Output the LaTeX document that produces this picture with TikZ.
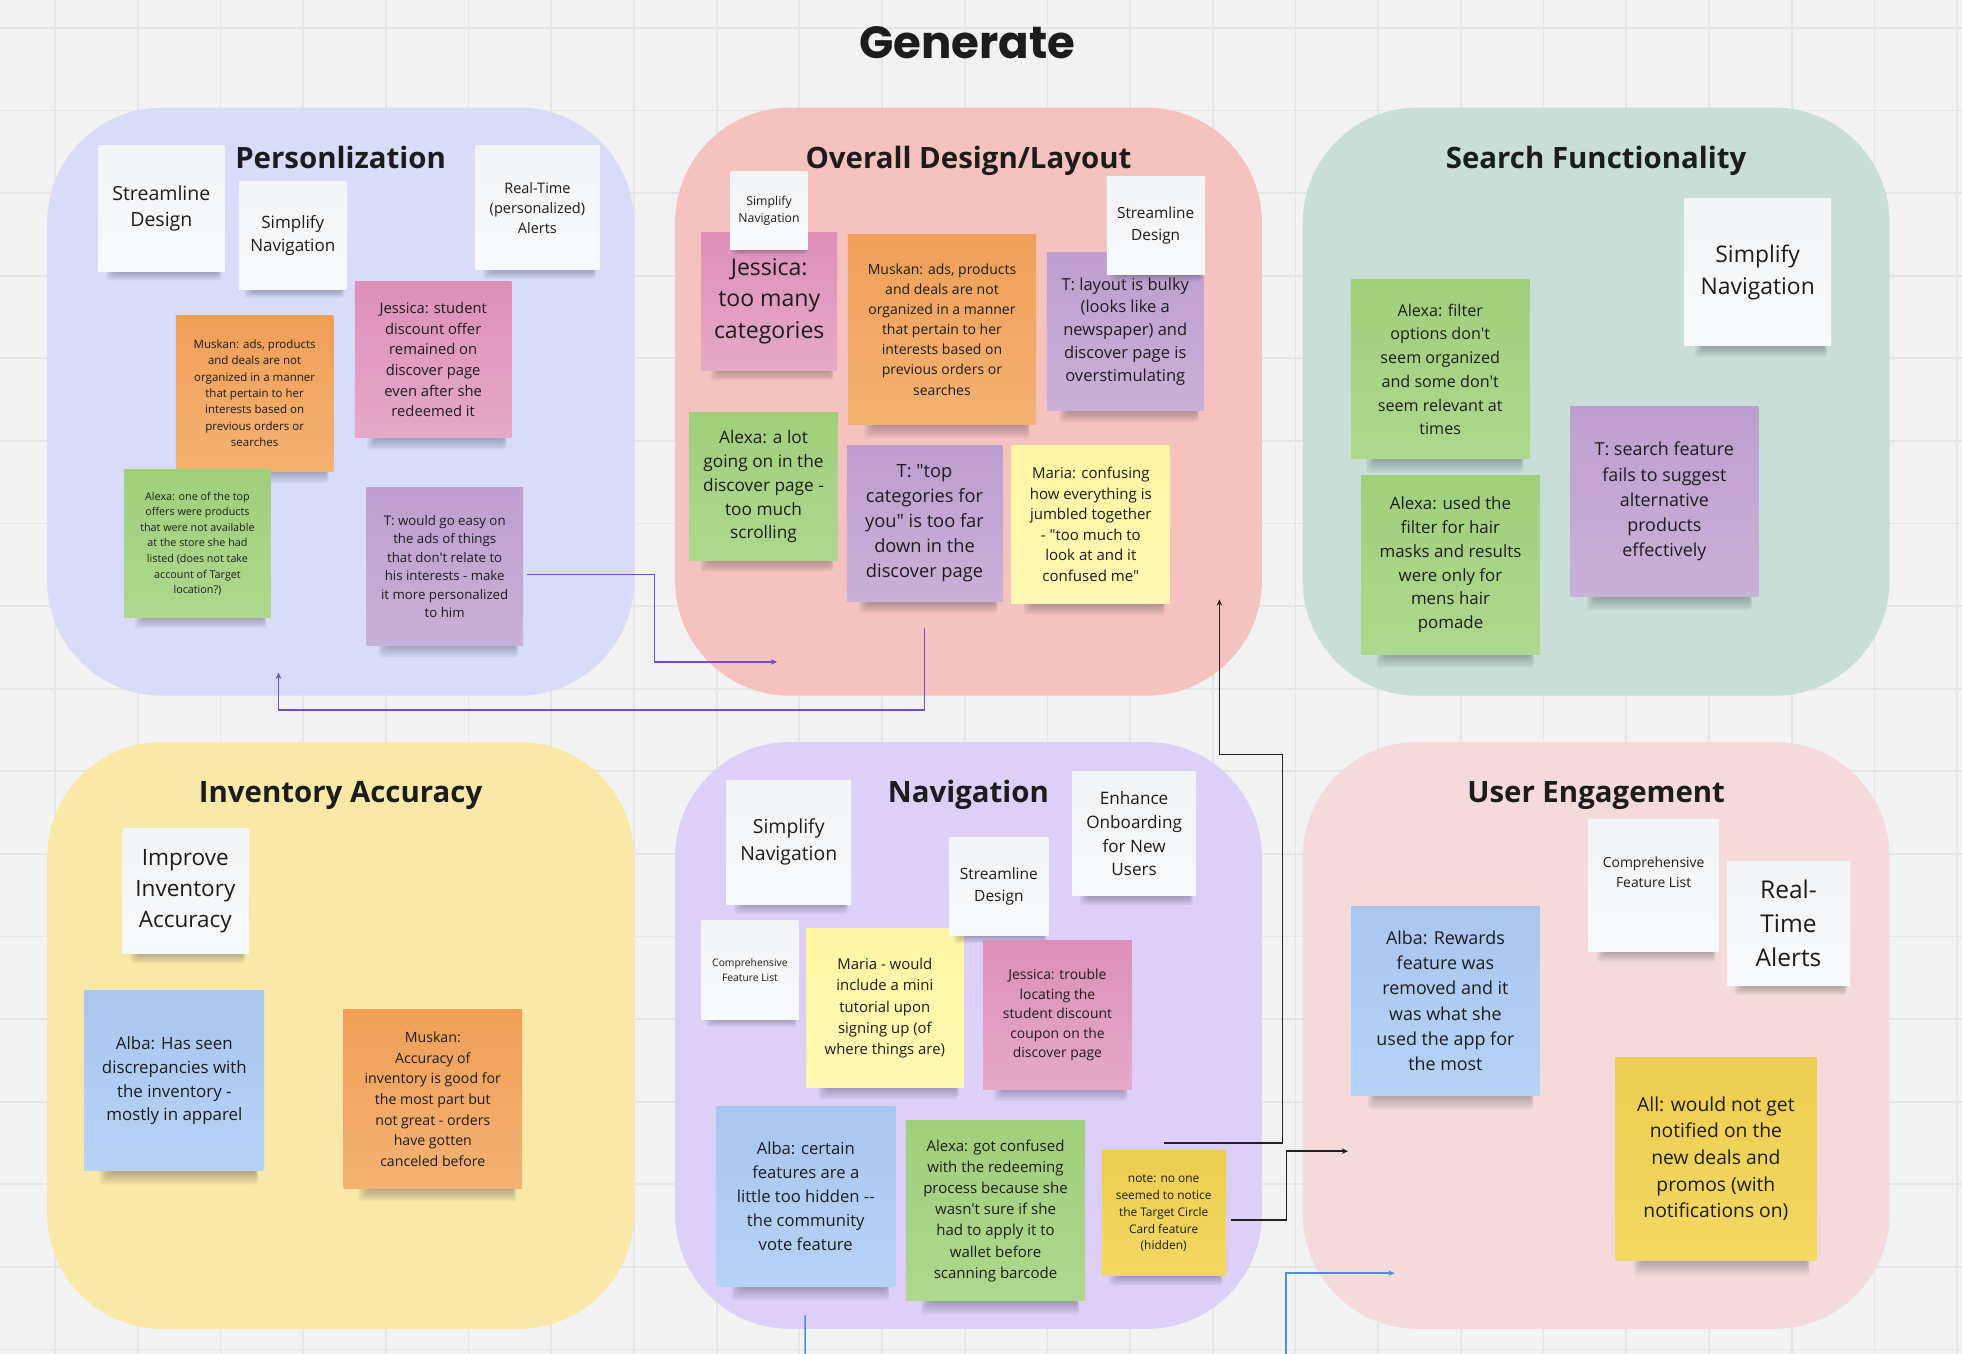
\documentclass[tikz,border=0pt]{standalone}
\usepackage{fontspec}
\setmainfont{Open Sans}[Ligatures=TeXOff]
\newfontfamily\titlefont{Poppins}
\usetikzlibrary{arrows.meta,calc}
\definecolor{bgc}{HTML}{F2F2F2}
\definecolor{gridc}{HTML}{E5E5E5}
\definecolor{pA}{HTML}{D8DCF8}
\definecolor{pB}{HTML}{F5C2C0}
\definecolor{pC}{HTML}{C8DED7}
\definecolor{pD}{HTML}{F9E8A7}
\definecolor{pE}{HTML}{DCCFF8}
\definecolor{pF}{HTML}{F4DADA}
\definecolor{textc}{HTML}{1C1C1C}
\definecolor{shc}{HTML}{20232E}
\definecolor{wT}{HTML}{F3F4F6}\definecolor{wB}{HTML}{F8F9FA}
\definecolor{oT}{HTML}{EF9F57}\definecolor{oB}{HTML}{F4B273}
\definecolor{kT}{HTML}{DD8FB9}\definecolor{kB}{HTML}{E5A9C9}
\definecolor{gT}{HTML}{A0CF7C}\definecolor{gB}{HTML}{AED88D}
\definecolor{uT}{HTML}{BE9ECF}\definecolor{uB}{HTML}{C9B0D8}
\definecolor{lT}{HTML}{FEF5A3}\definecolor{lB}{HTML}{FFF8B2}
\definecolor{bT}{HTML}{A8C6EF}\definecolor{bB}{HTML}{B6D2F5}
\definecolor{yT}{HTML}{EDCD4E}\definecolor{yB}{HTML}{F2D864}
\definecolor{linep}{HTML}{6F4FC6}
\definecolor{linek}{HTML}{222222}
\definecolor{lineb}{HTML}{4A90E2}
\tikzset{
  panel/.style={rectangle, rounded corners=92pt, inner sep=0pt, draw=none},
  ptitle/.style={font=\fontsize{23.5}{28}\selectfont\bfseries, text=textc, inner sep=0pt, anchor=base},
  sticky/.style={rectangle, inner sep=0pt, align=center, text=textc},
  fs/.style 2 args={font=\fontsize{#1}{#2}\selectfont},
  whiten/.style={top color=wT, bottom color=wB},
  orangen/.style={top color=oT, bottom color=oB},
  pinkn/.style={top color=kT, bottom color=kB},
  greenn/.style={top color=gT, bottom color=gB},
  purplen/.style={top color=uT, bottom color=uB},
  lyellown/.style={top color=lT, bottom color=lB},
  bluen/.style={top color=bT, bottom color=bB},
  yellown/.style={top color=yT, bottom color=yB},
  shadowpart/.style={fill=shc, opacity=0.055, rounded corners=2.5pt},
  conn/.style={line width=1.2pt, -{Stealth[length=5pt,width=4.5pt]}},
  connplain/.style={line width=1.2pt},
}
% name, x1, y1, x2, y2, style, text
\newcommand\sticky[7]{%
  \pgfmathsetmacro\shh{0.075*(#5-#3)}%
  \foreach \k in {1,2,3,4,5,6}{%
    \fill[shadowpart] ({#2+0.14*(#4-#2)-\k*1.3},{#5-3}) rectangle ({#4-0.05*(#4-#2)+\k*0.4},{#5+\shh*\k/6});
  }%
  \node[sticky,#6,minimum width={(#4-#2)*1pt},minimum height={(#5-#3)*1pt}] (#1) at ({(#2+#4)/2},{(#3+#5)/2}) {#7};
}
\begin{document}
\begin{tikzpicture}[x=1pt,y=-1pt]
\useasboundingbox (0,0) rectangle (1568,1082);
\fill[bgc] (0,0) rectangle (1568,1082);
\foreach \i in {0,...,23} \draw[gridc,line width=1.4pt] ({44+66.09*\i},0) -- ({44+66.09*\i},1082);
\foreach \j in {0,...,16} \draw[gridc,line width=1.4pt] (0,{22.4+66*\j}) -- (1568,{22.4+66*\j});

% title
\node[font=\titlefont\bfseries\fontsize{36}{40}\selectfont, text=textc, anchor=base, inner sep=0pt] (gen) at (773,46.6) {Generate};

% panels
\node[panel, fill=pA, minimum width=469pt, minimum height=470pt] (P1) at (272.2,321) {};
\node[panel, fill=pB, minimum width=469pt, minimum height=470pt] (P2) at (774,321) {};
\node[panel, fill=pC, minimum width=469pt, minimum height=470pt] (P3) at (1275.6,321) {};
\node[panel, fill=pD, minimum width=469pt, minimum height=469pt] (P4) at (272.2,827.5) {};
\node[panel, fill=pE, minimum width=469pt, minimum height=469pt] (P5) at (774,827.5) {};
\node[panel, fill=pF, minimum width=469pt, minimum height=469pt] (P6) at (1275.6,827.5) {};

\node[ptitle] (T1) at (272.2,135) {Personlization};
\node[ptitle] (T2) at (774,135) {Overall Design/Layout};
\node[ptitle] (T3) at (1275.6,135) {Search Functionality};
\node[ptitle] (T4) at (272.2,641.5) {Inventory Accuracy};
\node[ptitle] (T5) at (774,641.5) {Navigation};
\node[ptitle] (T6) at (1275.6,641.5) {User Engagement};

% Panel 1
\sticky{a1}{78.5}{116.6}{179.4}{216.6}{whiten,fs={15.6}{21.3}}{Streamline\\Design}
\sticky{a2}{191}{144.8}{277}{231.6}{whiten,fs={13.6}{18.9}}{Simplify\\Navigation}
\sticky{a3}{380}{116.6}{479}{215.4}{whiten,fs={11.6}{15.9}}{Real-Time\\(personalized)\\Alerts}
\sticky{a5}{283.7}{224.6}{408.7}{350}{pinkn,fs={11.8}{16.5}}{Jessica: student\\discount offer\\remained on\\discover page\\even after she\\redeemed it}
\sticky{a4}{140.5}{252}{266.5}{376.5}{orangen,fs={9.2}{13.1}}{Muskan: ads, products\\and deals are not\\organized in a manner\\that pertain to her\\interests based on\\previous orders or\\searches}
\sticky{a6}{99.2}{375.6}{216.4}{493.4}{greenn,fs={8.6}{12.5}}{Alexa: one of the top\\offers were products\\that were not available\\at the store she had\\listed (does not take\\account of Target\\location?)}
\sticky{a7}{292.8}{389.7}{418}{515.7}{purplen,fs={10.6}{14.7}}{T: would go easy on\\the ads of things\\that don't relate to\\his interests - make\\it more personalized\\to him}

% Panel 2
\sticky{b1}{560.5}{185.8}{669}{295.8}{pinkn,fs={18.4}{25.3}}{Jessica:\\too many\\categories}
\sticky{b2}{583.7}{137.4}{645.5}{199}{whiten,fs={9.8}{13.3}}{Simplify\\Navigation}
\sticky{b3}{677.6}{187.4}{828}{339}{orangen,fs={11.2}{16.1}}{Muskan: ads, products\\and deals are not\\organized in a manner\\that pertain to her\\interests based on\\previous orders or\\searches}
\sticky{b4}{836.6}{202}{962}{328}{purplen,fs={13.2}{18.3}}{T: layout is bulky\\(looks like a\\newspaper) and\\discover page is\\overstimulating}
\sticky{b5}{884.6}{141}{962.6}{219}{whiten,fs={12.3}{17.4}}{Streamline\\Design}
\sticky{b6}{551}{330}{669.4}{448}{greenn,fs={13.8}{19}}{Alexa: a lot\\going on in the\\discover page -\\too much\\scrolling}
\sticky{b7}{676.7}{355.8}{801}{480.6}{purplen,fs={14.6}{19.9}}{T: "top\\categories for\\you" is too far\\down in the\\discover page}
\sticky{b8}{808.5}{356.4}{935}{482}{lyellown,fs={12}{16.4}}{Maria: confusing\\how everything is\\jumbled together\\- "too much to\\look at and it\\confused me"}

% Panel 3
\sticky{c1}{1346}{158.5}{1463.4}{276.5}{whiten,fs={18.3}{25.4}}{Simplify\\Navigation}
\sticky{c2}{1079.6}{223.6}{1222.4}{366.8}{greenn,fs={12.9}{19}}{Alexa: filter\\options don't\\seem organized\\and some don't\\seem relevant at\\times}
\sticky{c3}{1087.8}{380.2}{1230.6}{522.7}{greenn,fs={13.5}{19}}{Alexa: used the\\filter for hair\\masks and results\\were only for\\mens hair\\pomade}
\sticky{c4}{1255}{325.2}{1405.2}{476.5}{purplen,fs={14.3}{20.2}}{T: search feature\\fails to suggest\\alternative\\products\\effectively}

% Panel 4
\sticky{d1}{97.7}{662.3}{198.6}{762}{whiten,fs={18}{24.8}}{Improve\\Inventory\\Accuracy}
\sticky{d2}{67.7}{791.7}{211}{935.7}{bluen,fs={13.5}{19}}{Alba: Has seen\\discrepancies with\\the inventory -\\mostly in apparel}
\sticky{d3}{274.5}{807}{417.3}{949.7}{orangen,fs={11.3}{16.5}}{Muskan:\\Accuracy of\\inventory is good for\\the most part but\\not great - orders\\have gotten\\canceled before}

% Panel 5
\sticky{e1}{580.6}{623.5}{680.1}{722.7}{whiten,fs={15.5}{21.6}}{Simplify\\Navigation}
\sticky{e2}{560.7}{736}{638}{814.6}{whiten,fs={8.25}{11.8}}{Comprehensive\\Feature List}
\sticky{e4}{857}{616.8}{955.7}{716}{whiten,fs={13.7}{19}}{Enhance\\Onboarding\\for New\\Users}
\sticky{e5}{644.4}{742.4}{769.9}{869}{lyellown,fs={11.9}{16.9}}{Maria - would\\include a mini\\tutorial upon\\signing up (of\\where things are)}
\sticky{e3}{758.8}{669.3}{837.8}{747.8}{whiten,fs={12.4}{17.2}}{Streamline\\Design}
\sticky{e6}{785.7}{752}{904.5}{870.6}{pinkn,fs={11.1}{15.6}}{Jessica: trouble\\locating the\\student discount\\coupon on the\\discover page}
\sticky{e7}{572.4}{884}{715.5}{1028}{bluen,fs={13.3}{19}}{Alba: certain\\features are a\\little too hidden -{}-\\the community\\vote feature}
\sticky{e8}{724}{895.7}{867.2}{1039.7}{greenn,fs={12}{16.9}}{Alexa: got confused\\with the redeeming\\process because she\\wasn't sure if she\\had to apply it to\\wallet before\\scanning barcode}
\sticky{e9}{880.5}{919.8}{979.4}{1019.7}{yellown,fs={9.5}{13.4}}{note: no one\\seemed to notice\\the Target Circle\\Card feature\\(hidden)}

% Panel 6
\sticky{f1}{1269.4}{655}{1373.7}{760.5}{whiten,fs={11.1}{15.6}}{Comprehensive\\Feature List\\[6pt]}
\sticky{f2}{1380}{688.3}{1478.6}{787.6}{whiten,fs={19.6}{27.3}}{Real-\\Time\\Alerts}
\sticky{f3}{1079.8}{724.3}{1230.5}{875.3}{bluen,fs={14.3}{20}}{Alba: Rewards\\feature was\\removed and it\\was what she\\used the app for\\the most}
\sticky{f4}{1290.9}{844.8}{1451.7}{1007}{yellown,fs={15.4}{21.3}}{All: would not get\\notified on the\\new deals and\\promos (with\\notifications on)}

% connectors
\coordinate (k1s) at ($(a7.east)+(3,6.5)$);
\coordinate (k1m) at (523,529);
\coordinate (k1e) at (621,529);
\draw[linep,conn] (k1s) -| (k1m) -- (k1e);

\coordinate (k2s) at ($(b7.south)+(0,21.4)$);
\coordinate (k2m) at (222.6,567.5);
\coordinate (k2e) at (222.6,537.6);
\draw[linep,conn] (k2s) |- (k2m) -- (k2e);

\coordinate (k3s) at ($(e9.north)+(0,-6)$);
\coordinate (k3m) at (1025,603);
\coordinate (k3e) at (974.5,479);
\draw[linek,conn] (k3s) -| (k3m) -| (k3e);

\coordinate (k4s) at ($(e9.east)+(4,5.3)$);
\coordinate (k4m) at (1028.3,920);
\coordinate (k4e) at (1077.3,920);
\draw[linek,conn] (k4s) -| (k4m) -- (k4e);

\coordinate (k5s) at (1027.6,1082);
\coordinate (k5e) at (1114.5,1017.5);
\draw[lineb,conn] (k5s) |- (k5e);

\coordinate (k6s) at ($(e7.south)+(-0.5,23)$);
\coordinate (k6e) at (643.5,1082);
\draw[lineb,connplain] (k6s) -- (k6e);
\end{tikzpicture}
\end{document}
